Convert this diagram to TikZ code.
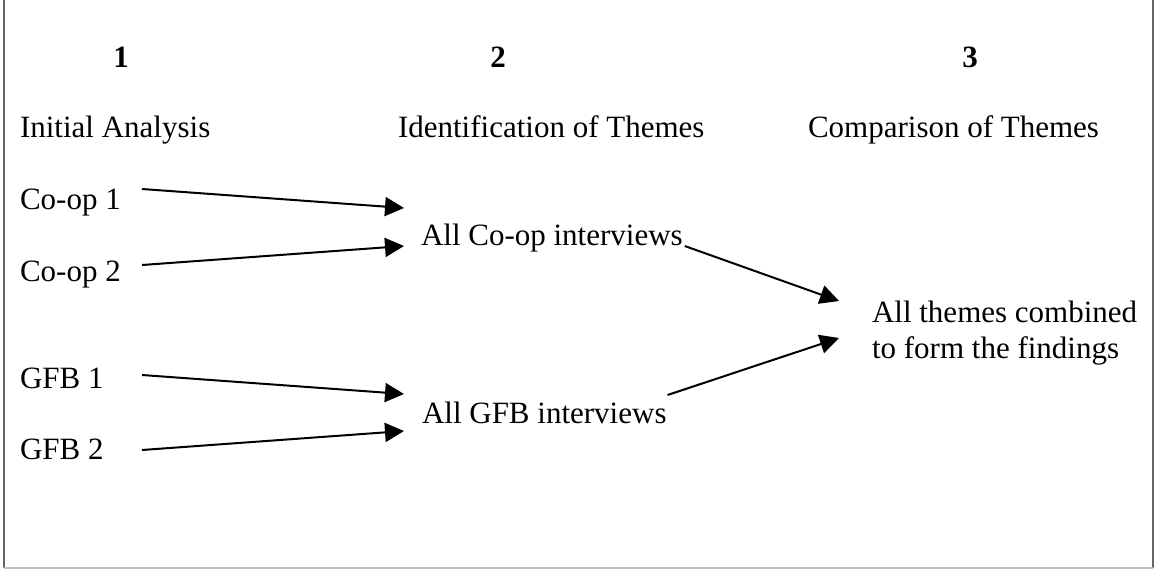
\documentclass[tikz,border=0pt]{standalone}
\usepackage{fontspec}
\setmainfont{Liberation Serif}
\usetikzlibrary{arrows.meta}
\tikzset{
  lbl/.style={inner sep=0pt, outer sep=0pt, font=\fontsize{15.5}{18}\selectfont},
  hdr/.style={lbl, font=\fontsize{15.5}{18}\selectfont\bfseries},
  arr/.style={line width=1pt, -{Triangle[length=9.5pt,width=9.5pt]}},
  frameside/.style={draw=black!60, line width=1pt},
  framebot/.style={draw=black!25, line width=1pt}
}
\begin{document}
\begin{tikzpicture}[x=0.5pt,y=-0.5pt]
\useasboundingbox (0,0) rectangle (1156,573);
% frame
\draw[frameside] (4,-2) -- (4,568);
\draw[frameside] (1153,-2) -- (1153,568);
\draw[framebot] (4,568) -- (1153,568);
% headers
\node[hdr, anchor=base] (h1) at (121,67) {1};
\node[hdr, anchor=base] (h2) at (498,67) {2};
\node[hdr, anchor=base] (h3) at (970,67) {3};
\node[lbl, anchor=base west] (t1) at (20,137) {Initial Analysis};
\node[lbl, anchor=base west] (t2) at (398,137) {Identification of Themes};
\node[lbl, anchor=base west] (t3) at (808,137) {Comparison of Themes};
% sources
\node[lbl, anchor=base west] (c1) at (20,209) {Co-op 1};
\node[lbl, anchor=base west] (c2) at (20,281) {Co-op 2};
\node[lbl, anchor=base west] (g1) at (20,388) {GFB 1};
\node[lbl, anchor=base west] (g2) at (20,459) {GFB 2};
% intermediate
\node[lbl, anchor=base west] (ac) at (421,245) {All Co-op interviews};
\node[lbl, anchor=base west] (ag) at (422,423) {All GFB interviews};
% final
\node[lbl, anchor=west, align=left] (fin) at (872,333) {All themes combined\\to form the findings};
% arrows
\draw[arr] ([shift={(122,-20)}]c1.base west) -- ([shift={(-17,-37)}]ac.base west);
\draw[arr] ([shift={(122,-16)}]c2.base west) -- ([shift={(-17,1)}]ac.base west);
\draw[arr] ([shift={(122,-13)}]g1.base west) -- ([shift={(-18,-29)}]ag.base west);
\draw[arr] ([shift={(122,-9)}]g2.base west) -- ([shift={(-18,8)}]ag.base west);
\draw[arr] ([shift={(2,1)}]ac.base east) -- ([shift={(-33,-32)}]fin.west);
\draw[arr] ([shift={(1,-28)}]ag.base east) -- ([shift={(-33,5)}]fin.west);
\end{tikzpicture}
\end{document}
